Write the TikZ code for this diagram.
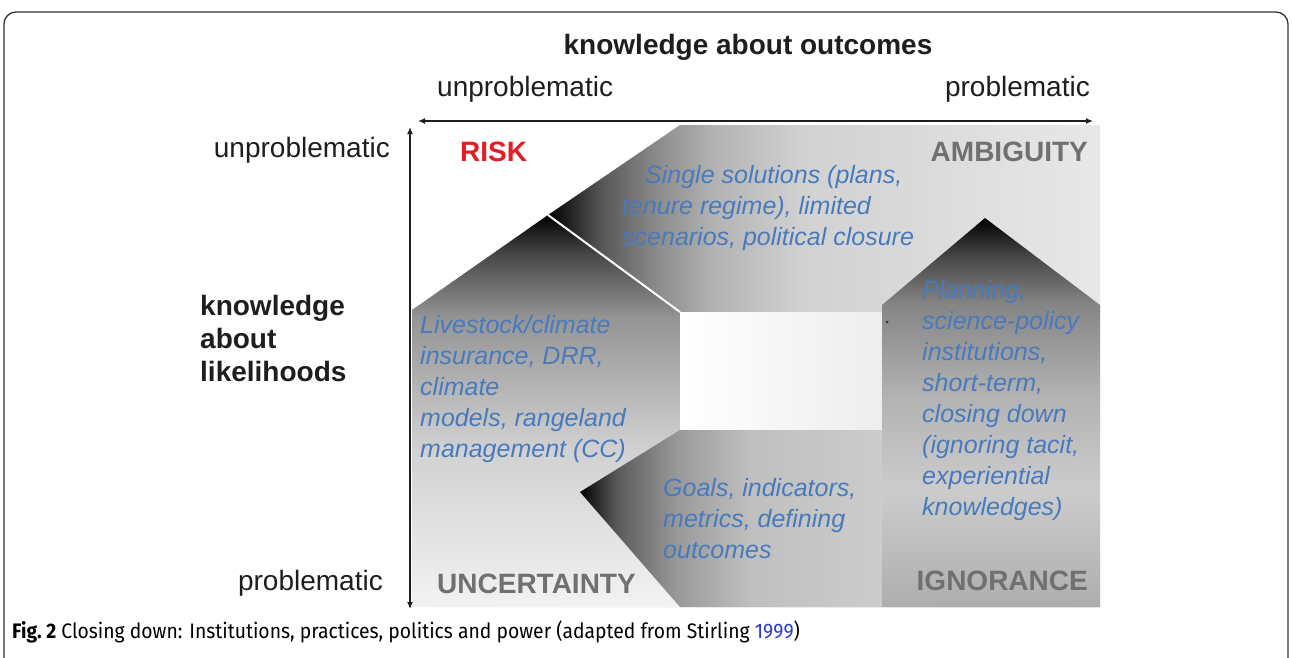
\documentclass[tikz,border=0pt]{standalone}
\usepackage{fontspec}
\usepackage{graphicx}
\setmainfont{Liberation Sans}
\newfontfamily\capfont{Fira Sans}
\usetikzlibrary{arrows.meta}
\definecolor{txtblue}{RGB}{72,122,190}
\definecolor{qgray}{RGB}{112,112,112}
\definecolor{riskred}{RGB}{228,28,38}
\definecolor{capblue}{RGB}{40,60,200}
\definecolor{axiscol}{RGB}{30,30,30}
\pgfdeclareverticalshading{lpentsh}{100bp}{color(0bp)=(black!5); color(25bp)=(black!5); color(45bp)=(black!18); color(62bp)=(black!42); color(70bp)=(black!72); color(75bp)=(black); color(100bp)=(black)}
\pgfdeclarehorizontalshading{bandsh}{100bp}{color(0bp)=(black); color(25bp)=(black); color(30bp)=(black!65); color(35bp)=(black!45); color(40bp)=(black!30); color(48bp)=(black!18); color(75bp)=(black!9); color(100bp)=(black!9)}
\pgfdeclareverticalshading{rpentsh}{100bp}{color(0bp)=(black!32); color(25bp)=(black!32); color(40bp)=(black!20); color(52bp)=(black!30); color(64bp)=(black!48); color(70bp)=(black!72); color(75bp)=(black); color(100bp)=(black)}
\pgfdeclarehorizontalshading{barrsh}{100bp}{color(0bp)=(black); color(25bp)=(black); color(31bp)=(black!65); color(41bp)=(black!40); color(53bp)=(black!25); color(75bp)=(black!20); color(100bp)=(black!20)}
\tikzset{
  axislabel/.style={inner sep=0pt, font=\fontsize{28}{33}\selectfont, text=axiscol},
  axistitle/.style={inner sep=0pt, font=\bfseries\fontsize{28}{33}\selectfont, text=axiscol, align=left},
  quadlabel/.style={inner sep=0pt, font=\bfseries\fontsize{28}{33}\selectfont, text=qgray},
  bluetext/.style={inner sep=0pt, font=\itshape\fontsize{25}{31}\selectfont, text=txtblue, align=left, anchor=north west},
  axisline/.style={line width=1.8pt, draw=axiscol, {Latex[length=7pt,width=6pt]}-{Latex[length=7pt,width=6pt]}},
}
\begin{document}
\begin{tikzpicture}[x=1pt,y=-1pt]
\useasboundingbox (0,0) rectangle (1292,657);
\clip (0,0) rectangle (1292,657);
\fill[white] (0,0) rectangle (1292,657);
% frame
\draw[line width=1.3pt, black!80, rounded corners=12pt] (4,12) rectangle (1288,720);
% quadrant background
\shade[left color=white, right color=black!8] (412,125) rectangle (1100,607);
% RISK white region
\fill[white] (412,125) -- (680,125) -- (548,215) -- (412,310) -- cycle;
% top band
\shade[shading=bandsh] (548,215) -- (680,125) -- (1100,125) -- (1100,312) -- (680,312) -- cycle;
% left pentagon
\shade[shading=lpentsh] (548,215) -- (680,312) -- (680,607) -- (412,607) -- (412,310) -- cycle;
\draw[white, line width=2pt] (548,215) -- (680,312);
% central square
\shade[left color=white, right color=black!7] (680,312) rectangle (882,430);
% bottom arrow
\shade[shading=barrsh] (580,492) -- (680,430) -- (882,430) -- (882,607) -- (680,607) -- cycle;
% right pentagon
\shade[shading=rpentsh] (985,218) -- (1100,305) -- (1100,607) -- (882,607) -- (882,305) -- cycle;
\fill[black!80] (887,322) circle (1.5pt);
% blue texts
\node[bluetext] (single) at (622,165) {\hspace*{23pt}Single solutions (plans,\\tenure regime), limited\\scenarios, political closure};
\node[bluetext] (livestock) at (420,315) {Livestock/climate\\insurance, DRR,\\climate\\models, rangeland\\management (CC)};
\node[bluetext] (goals) at (663,478) {Goals, indicators,\\metrics, defining\\outcomes};
\node[bluetext] (planning) at (922,280) {Planning,\\science-policy\\institutions,\\short-term,\\closing down\\(ignoring tacit,\\experiential\\knowledges)};
% quadrant labels
\node[quadlabel, text=riskred, anchor=base west] (risk) at (460,161) {RISK};
\node[quadlabel, anchor=base east] (ambiguity) at (1088,161) {AMBIGUITY};
\node[quadlabel, anchor=base west] (uncertainty) at (437,593) {UNCERTAINTY};
\node[quadlabel, anchor=base east] (ignorance) at (1088,590) {IGNORANCE};
% axes
\coordinate (hl) at (418,121);
\coordinate (hr) at (1093,121);
\coordinate (vt) at (410,127);
\coordinate (vb) at (410,609);
\draw[axisline] (hl) -- (hr);
\draw[axisline] (vt) -- (vb);
% axis labels
\node[axistitle, anchor=base] (kout) at (748,54) {knowledge about outcomes};
\node[axislabel, anchor=base west] (tunp) at (437,96) {unproblematic};
\node[axislabel, anchor=base east] (tprob) at (1090,96) {problematic};
\node[axislabel, anchor=base east] (lunp) at (390,157) {unproblematic};
\node[axislabel, anchor=base east] (lprob) at (383,590) {problematic};
\node[axistitle, anchor=north west, font=\bfseries\fontsize{28}{33}\selectfont] (klik) at (200,295) {knowledge\\about\\likelihoods};
% caption
\node[inner sep=0pt, anchor=base west] (caption) at (12,638) {\capfont\fontsize{21}{24}\selectfont\scalebox{0.92}[1]{\textbf{Fig.~2} Closing down: Institutions, practices, politics and power (adapted from Stirling \textcolor{capblue}{1999})}};
\end{tikzpicture}
\end{document}
